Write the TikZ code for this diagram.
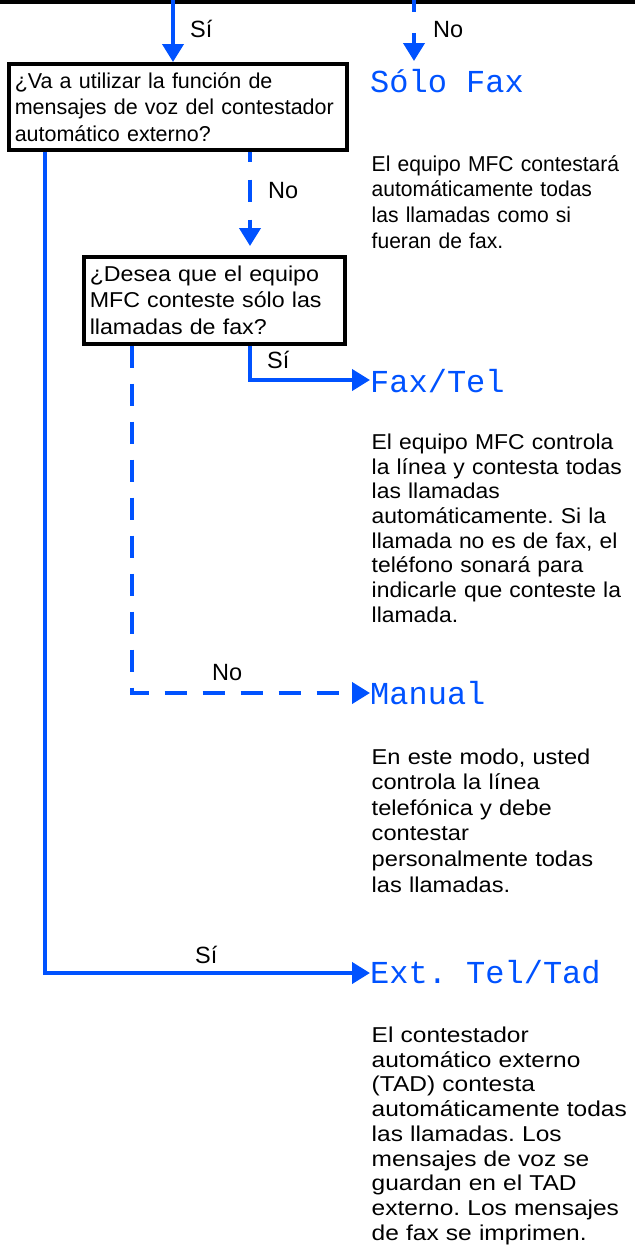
\documentclass[tikz,border=0pt]{standalone}
\usepackage{fontspec}
\setmainfont{Liberation Sans}
\newfontfamily\lcdfont{Liberation Mono}
\usetikzlibrary{arrows.meta,calc}
\definecolor{fblue}{RGB}{0,82,255}
\frenchspacing
\begin{document}
\begin{tikzpicture}[x=1pt,y=-1pt,
  flow/.style={draw=fblue,line width=4pt},
  dflow/.style={flow,dash pattern=on 22pt off 16pt},
  arr/.style={-{Triangle[length=18pt,width=21pt]}},
  qbox/.style={draw=black,line width=3.5pt,anchor=north west,align=left,inner xsep=6pt,inner ysep=0pt},
  lbl/.style={font=\fontsize{23.5}{25}\selectfont,inner sep=0pt,anchor=base west},
  mode/.style={font=\lcdfont\fontsize{32}{32}\selectfont,text=fblue,inner sep=0pt,anchor=base west},
  desc/.style={inner sep=0pt,anchor=north west,text width=300pt,align=left},
]
\useasboundingbox (0,0) rectangle (635,1248);
% top line
\coordinate (tl) at (0,2);
\coordinate (tr) at (635,2);
\draw[line width=4pt] (tl) -- (tr);
\coordinate (ts) at (173,0);
\coordinate (tn) at (414,0);

% question boxes
\node[qbox,text width=326pt,minimum width=338pt,minimum height=86pt,
  font=\fontsize{21.5}{26.5}\selectfont] (q1) at (7,62)
  {¿Va a utilizar la función de\\mensajes de voz del contestador\\automático externo?};
\node[qbox,text width=249pt,minimum width=261pt,minimum height=87pt,
  font=\fontsize{21.5}{26.5}\selectfont\addfontfeature{FakeStretch=1.08}] (q2) at (82,255)
  {¿Desea que el equipo\\MFC conteste sólo las\\llamadas de fax?};

% mode labels
\node[mode] (solo) at (370,92) {Sólo Fax};
\node[mode] (faxtel) at (370,392) {Fax/Tel};
\node[mode] (manual) at (370,704) {Manual};
\node[mode] (ext) at (370,983) {Ext. Tel/Tad};

% descriptions
\node[desc,font=\fontsize{21.5}{25.7}\selectfont\addfontfeature{FakeStretch=0.98}] (d1) at (371.5,153)
  {\strut El equipo MFC contestará\\automáticamente todas\\las llamadas como si\\fueran de fax.};
\node[desc,font=\fontsize{21.5}{24.7}\selectfont\addfontfeature{FakeStretch=1.065}] (d2) at (371.5,432)
  {\strut El equipo MFC controla\\la línea y contesta todas\\las llamadas\\automáticamente. Si la\\llamada no es de fax, el\\teléfono sonará para\\indicarle que conteste la\\llamada.};
\node[desc,font=\fontsize{21.5}{25.6}\selectfont\addfontfeature{FakeStretch=1.10}] (d3) at (371.5,746)
  {\strut En este modo, usted\\controla la línea\\telefónica y debe\\contestar\\personalmente todas\\las llamadas.};
\node[desc,font=\fontsize{21.5}{24.7}\selectfont\addfontfeature{FakeStretch=1.14}] (d4) at (371.5,1025)
  {\strut El contestador\\automático externo\\(TAD) contesta\\automáticamente todas\\las llamadas. Los\\mensajes de voz se\\guardan en el TAD\\externo. Los mensajes\\de fax se imprimen.};

% branch labels
\node[lbl] (lsi0) at (190,37) {Sí};
\node[lbl] (lno0) at (433,37) {No};
\node[lbl] (lno1) at (268,198) {No};
\node[lbl] (lsi2) at (267,368) {Sí};
\node[lbl] (lno2) at (212,680) {No};
\node[lbl] (lsi1) at (195,963) {Sí};

% connectors
\draw[flow,arr] (ts) -- (ts |- q1.north);
\draw[flow] (tn) -- ($(tn)+(0,12)$);
\draw[flow,arr] ($(tn)+(0,33)$) -- ($(tn)+(0,61)$);

\draw[flow,arr] ($(q1.south west)+(38,0)$) |- ($(ext.base west)+(0,-10)$);
\draw[flow,arr,dash pattern=on 22pt off 18pt,dash phase=12pt] ($(q1.south west)+(243,0)$) -- ($(q2.north west)+(168,-9)$);

\draw[flow,arr] ($(q2.south west)+(168,0)$) |- ($(faxtel.base west)+(0,-12)$);
\draw[dflow,arr] ($(q2.south west)+(50,0)$) |- ($(manual.base west)+(0,-11)$);
\end{tikzpicture}
\end{document}
